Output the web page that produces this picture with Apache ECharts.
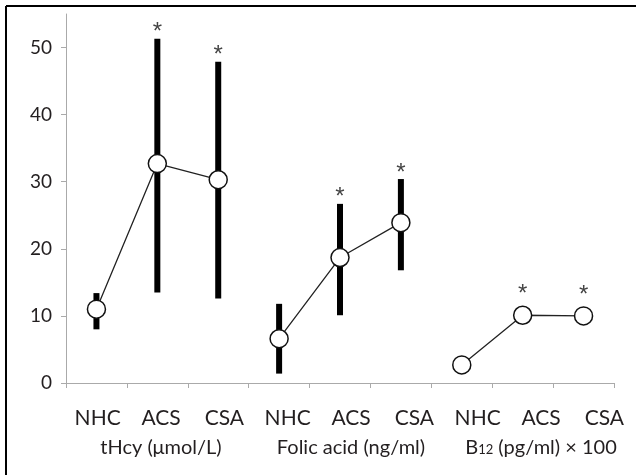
<!DOCTYPE html>
<html>
<head>
<meta charset="utf-8">
<script src="https://cdn.jsdelivr.net/npm/echarts@6/dist/echarts.min.js"></script>
<style>html,body{margin:0;padding:0;background:#fff;}#c{width:636px;height:475px;}</style>
</head>
<body>
<div id="c"></div>
<script>
const categories = ['NHC', 'ACS', 'CSA', 'NHC', 'ACS', 'CSA', 'NHC', 'ACS', 'CSA'];
const groupNames = ['tHcy (μmol/L)', 'Folic acid (ng/ml)', 'B12 (pg/ml) × 100'];
const meanValues = [11.0, 32.7, 30.3, 6.6, 18.7, 23.9, 2.7, 10.1, 10.0];
const lowValues = [8.0, 13.5, 12.6, 1.4, 10.1, 16.8, null, null, null];
const highValues = [13.4, 51.3, 47.9, 11.8, 26.7, 30.4, null, null, null];
const significant = [false, true, true, false, true, true, false, true, true];
const yTicks = [0, 10, 20, 30, 40, 50];

const FONT = 'Lato';
const TXT = '#231f20';

function groupLabel(name) {
  if (name.indexOf('B12') === 0) {
    return '{g|B}{s|12}{g|' + name.slice(3) + '}';
  }
  return '{g|' + name + '}';
}

const errData = categories.map((c, i) => [i, lowValues[i], highValues[i], meanValues[i], significant[i] ? 1 : 0]);

const lineSeries = groupNames.map((g, gi) => ({
  type: 'line',
  xAxisIndex: 0, yAxisIndex: 0,
  z: 5,
  data: meanValues.map((v, i) => Math.floor(i / 3) === gi ? v : '-'),
  symbol: 'circle',
  symbolSize: 18,
  itemStyle: { color: '#fff', borderColor: '#111', borderWidth: 1.5 },
  lineStyle: { color: '#222', width: 1.3 },
  animation: false,
  silent: true
}));

const chart = echarts.init(document.getElementById('c'), null, { renderer: 'canvas' });
chart.setOption({
  animation: false,
  backgroundColor: '#fff',
  grid: [
    { left: 66, right: 22, top: 14, bottom: 92 },
    { left: 66, width: 580, top: 14, bottom: 92 }
  ],
  xAxis: [
    {
      type: 'category', gridIndex: 0, data: categories,
      axisLine: { lineStyle: { color: '#aaa', width: 1 } },
      axisTick: { show: true, length: 5, lineStyle: { color: '#aaa' } },
      axisLabel: { show: false }
    },
    {
      type: 'category', gridIndex: 1, data: categories,
      axisLine: { show: false }, axisTick: { show: false },
      axisLabel: {
        margin: 21,
        interval: 0,
        formatter: function (v, i) {
          const gi = Math.floor(i / 3);
          if (i % 3 === 1) return '{c|' + v + '}\n' + groupLabel(groupNames[gi]);
          return '{c|' + v + '}';
        },
        rich: {
          c: { fontFamily: FONT, fontSize: 21, color: TXT, lineHeight: 29 },
          g: { fontFamily: FONT, fontSize: 20, color: TXT, lineHeight: 29 },
          s: { fontFamily: FONT, fontSize: 13, color: TXT, lineHeight: 29, padding: [5, 0, 0, 0] }
        }
      }
    }
  ],
  yAxis: [
    {
      type: 'value', gridIndex: 0, min: 0, max: 55, interval: 10,
      splitLine: { show: false },
      axisLine: { show: true, lineStyle: { color: '#aaa', width: 1 } },
      axisTick: { show: true, length: 5, customValues: yTicks, lineStyle: { color: '#aaa' } },
      axisLabel: { customValues: yTicks, margin: 14, fontFamily: FONT, fontSize: 19, color: TXT }
    },
    {
      type: 'value', gridIndex: 1, min: 0, max: 55, show: false
    }
  ],
  series: [
    {
      type: 'custom',
      xAxisIndex: 0, yAxisIndex: 0,
      z: 2,
      data: errData,
      silent: true,
      renderItem: function (params, api) {
        const i = api.value(0);
        const lo = errData[params.dataIndex][1];
        const hi = errData[params.dataIndex][2];
        const mean = api.value(3);
        const sig = api.value(4);
        const children = [];
        let topY;
        if (lo != null && hi != null) {
          const pHi = api.coord([i, hi]);
          const pLo = api.coord([i, lo]);
          children.push({
            type: 'rect',
            shape: { x: pHi[0] - 3, y: pHi[1], width: 6, height: pLo[1] - pHi[1] },
            style: { fill: '#000' }
          });
          topY = pHi[1] - 11;
        } else {
          topY = api.coord([i, mean])[1] - 26;
        }
        if (sig) {
          const p = api.coord([i, mean]);
          children.push({
            type: 'text',
            style: {
              text: '*', x: p[0], y: topY + 5,
              align: 'center', verticalAlign: 'middle',
              font: '24px "Liberation Sans"', fill: '#444'
            }
          });
        }
        return { type: 'group', children: children };
      }
    }
  ].concat(lineSeries),
  graphic: [
    { type: 'line', shape: { x1: 6, y1: 6, x2: 636, y2: 6 }, style: { stroke: '#000', lineWidth: 2 } },
    { type: 'line', shape: { x1: 6, y1: 6, x2: 6, y2: 475 }, style: { stroke: '#000', lineWidth: 2 } }
  ]
});
</script>
</body>
</html>
